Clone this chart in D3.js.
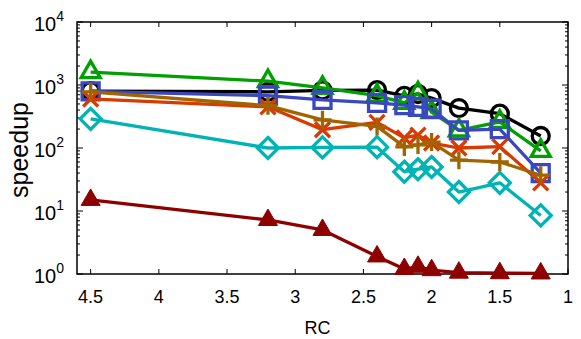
<!DOCTYPE html>
<html>
<head>
<meta charset="utf-8">
<script src="https://cdn.jsdelivr.net/npm/d3@7"></script>
<style>
  body { margin: 0; background: #fff; }
  text { font-family: "Liberation Sans", Arial, sans-serif; }
</style>
</head>
<body>
<div id="chart"></div>
<script>
// RC values along the x axis
const rc = [4.5, 3.2, 2.8, 2.4, 2.2, 2.1, 2.0, 1.8, 1.5, 1.2];

// speedup per series
const blackCircle = [800, 780, 820, 830, 670, 720, 620, 430, 350, 155];
const greenTriangle = [1600, 1150, 900, 680, 520, 740, 370, 190, 260, 90];
const blueSquare = [790, 680, 580, 520, 480, 450, 420, 190, 200, 40];
const redCross = [600, 450, 195, 255, 145, 160, 120, 100, 105, 28];
const brownPlus = [780, 470, 280, 220, 104, 112, 124, 64, 60, 37];
const cyanDiamond = [290, 100, 102, 103, 42, 46, 50, 20, 28, 8.5];
const darkRedTriangle = [15, 7.2, 5.0, 1.9, 1.2, 1.3, 1.15, 1.05, 1.03, 1.02];

const xTicks = [4.5, 4, 3.5, 3, 2.5, 2, 1.5, 1];
const yTicks = [0, 1, 2, 3, 4];

const width = 581, height = 339;
const margin = {top: 22, right: 13, bottom: 65, left: 77};
const iw = width - margin.left - margin.right;
const ih = height - margin.top - margin.bottom;

const svg = d3.select("#chart").append("svg")
    .attr("width", width)
    .attr("height", height);

const g = svg.append("g")
    .attr("transform", `translate(${margin.left},${margin.top})`);

const x = d3.scaleLinear().domain([4.6, 1]).range([0, iw]);
const y = d3.scaleLog().domain([1, 10000]).range([ih, 0]);

// frame
g.append("rect")
    .attr("width", iw).attr("height", ih)
    .attr("fill", "none").attr("stroke", "#000").attr("stroke-width", 1.5);

// x ticks (bottom + top mirror)
xTicks.forEach(t => {
    g.append("line").attr("x1", x(t)).attr("x2", x(t)).attr("y1", ih).attr("y2", ih - 5)
        .attr("stroke", "#000");
    g.append("line").attr("x1", x(t)).attr("x2", x(t)).attr("y1", 0).attr("y2", 5)
        .attr("stroke", "#000");
    g.append("text").attr("x", x(t)).attr("y", ih + 29)
        .attr("text-anchor", "middle").attr("font-size", 18)
        .text(d3.format("")(t));
});

// y ticks, major and minor, left + right mirror
for (let e = 0; e < 4; e++) {
    for (let m = 2; m <= 9; m++) {
        const v = m * Math.pow(10, e);
        [[0, 3], [iw, iw - 3]].forEach(([a, b]) => {
            g.append("line").attr("x1", a).attr("x2", b).attr("y1", y(v)).attr("y2", y(v))
                .attr("stroke", "#000");
        });
    }
}
yTicks.forEach(e => {
    const v = Math.pow(10, e);
    [[0, 6], [iw, iw - 6]].forEach(([a, b]) => {
        g.append("line").attr("x1", a).attr("x2", b).attr("y1", y(v)).attr("y2", y(v))
            .attr("stroke", "#000");
    });
    const t = g.append("text").attr("x", -13).attr("y", y(v) + 9)
        .attr("text-anchor", "end").attr("font-size", 20);
    t.append("tspan").text("10");
    t.append("tspan").attr("dy", -10).attr("font-size", 14).text(e);
});

// axis titles
svg.append("text")
    .attr("x", margin.left + iw / 2 - 5).attr("y", 334)
    .attr("text-anchor", "middle").attr("font-size", 18)
    .text("RC");
svg.append("text")
    .attr("transform", `translate(28,${margin.top + ih / 2 + 2}) rotate(-90)`)
    .attr("text-anchor", "middle").attr("font-size", 25)
    .text("speedup");

// marker shapes
const shapes = {
    circle: "M-8.5,0A8.5,8.5 0 1,0 8.5,0A8.5,8.5 0 1,0 -8.5,0Z",
    square: "M-8.5,-8.5H8.5V8.5H-8.5Z",
    triangle: "M0,-11L9.5,5.5H-9.5Z",
    cross: "M-7.5,-7.5L7.5,7.5M-7.5,7.5L7.5,-7.5",
    plus: "M-9,0H9M0,-9V9",
    diamond: "M0,-10.5L10.5,0L0,10.5L-10.5,0Z"
};

const series = [
    {values: blackCircle, color: "#000000", shape: "circle", fill: false},
    {values: greenTriangle, color: "#00a000", shape: "triangle", fill: false},
    {values: blueSquare, color: "#3a48c0", shape: "square", fill: false},
    {values: redCross, color: "#d83a00", shape: "cross", fill: false},
    {values: brownPlus, color: "#a06400", shape: "plus", fill: false},
    {values: cyanDiamond, color: "#00b4b4", shape: "diamond", fill: false},
    {values: darkRedTriangle, color: "#8e0000", shape: "triangle", fill: true}
];

const line = d3.line()
    .x(d => x(d[0]))
    .y(d => y(d[1]));

series.forEach(s => {
    const pts = rc.map((r, i) => [r, s.values[i]]);
    g.append("path")
        .attr("d", line(pts))
        .attr("fill", "none")
        .attr("stroke", s.color)
        .attr("stroke-width", 3.3)
        .attr("stroke-linejoin", "round");
    g.selectAll(null)
        .data(pts)
        .enter().append("path")
        .attr("transform", d => `translate(${x(d[0])},${y(d[1])})`)
        .attr("d", shapes[s.shape])
        .attr("fill", s.fill ? s.color : "none")
        .attr("stroke", s.color)
        .attr("stroke-width", s.fill ? 1 : 3.3);
});
</script>
</body>
</html>
